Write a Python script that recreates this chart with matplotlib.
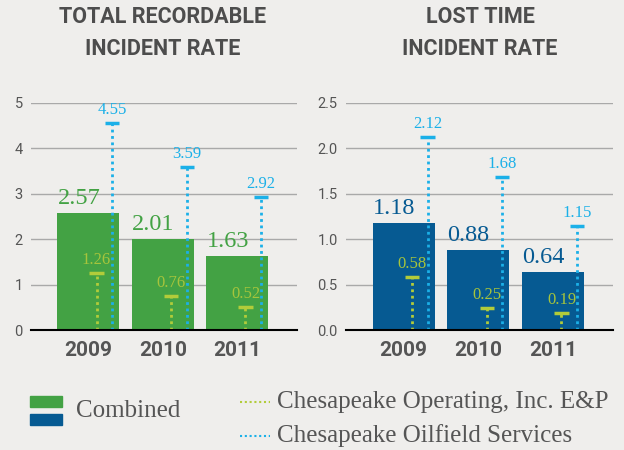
import matplotlib.pyplot as plt
import numpy as np

years = ["2009", "2010", "2011"]
trir_combined = [2.57, 2.01, 1.63]
trir_ep = [1.26, 0.76, 0.52]
trir_cos = [4.55, 3.59, 2.92]
ltir_combined = [1.18, 0.88, 0.64]
ltir_ep = [0.58, 0.25, 0.19]
ltir_cos = [2.12, 1.68, 1.15]

BG = "#efeeec"
GREEN = "#43a244"
BLUE = "#065a92"
EP = "#b2cc3a"
EP_TXT = "#a6c43c"
COS = "#1bb0e8"
GRAY = "#555555"
TITLE = "#4d4d4d"

SERIF = "Liberation Serif"
SANS = "Roboto"


def panel(ax, combined, ep, cos, color, ymax, yticks, ylabels):
    x = np.arange(len(years))
    ax.set_facecolor(BG)
    ax.set_xlim(-0.77, 2.80)
    ax.set_ylim(0, ymax)
    for t in yticks[1:]:
        ax.axhline(t, color="#a9a9a9", lw=1, zorder=0)
    ax.bar(x, combined, width=0.83, color=color, zorder=2)
    ax.vlines(x + 0.11, 0, ep, colors=EP, lw=2, linestyles=(0, (1, 1.3)), zorder=3)
    ax.vlines(x + 0.32, 0, cos, colors=COS, lw=2, linestyles=(0, (1, 1.3)), zorder=3)
    ax.hlines(ep, x + 0.11 - 0.095, x + 0.11 + 0.095, colors=EP, lw=2.5, zorder=3)
    ax.hlines(cos, x + 0.32 - 0.095, x + 0.32 + 0.095, colors=COS, lw=2.5, zorder=3)
    for i in range(len(years)):
        ax.annotate(f"{combined[i]:.2f}", (x[i] - 0.415, combined[i]),
                    xytext=(0, 4), textcoords="offset pixels", ha="left", va="bottom",
                    color=color, fontsize=17.5, family=SERIF, zorder=4)
        ax.annotate(f"{ep[i]:.2f}", (x[i] + 0.11, ep[i]),
                    xytext=(0, 5), textcoords="offset pixels", ha="center", va="bottom",
                    color=EP_TXT, fontsize=12, family=SERIF, zorder=4)
        ax.annotate(f"{cos[i]:.2f}", (x[i] + 0.32, cos[i]),
                    xytext=(0, 5), textcoords="offset pixels", ha="center", va="bottom",
                    color=COS, fontsize=12, family=SERIF, zorder=4)
    ax.set_xticks(x)
    ax.set_xticklabels(years, fontsize=15, fontweight="bold", color=GRAY, family=SANS)
    ax.set_yticks(yticks)
    ax.set_yticklabels(ylabels, fontsize=10.5, color=GRAY, family=SANS)
    ax.tick_params(length=0)
    ax.tick_params(axis="x", pad=8)
    ax.tick_params(axis="y", pad=6)
    for s in ["top", "left", "right"]:
        ax.spines[s].set_visible(False)
    ax.spines["bottom"].set_color("black")
    ax.spines["bottom"].set_linewidth(1.5)
    ax.spines["bottom"].set_zorder(5)


def main():
    fig = plt.figure(figsize=(6.24, 4.5), dpi=100, facecolor=BG)
    ax1 = fig.add_axes([0.0497, 0.266, 0.426, 0.506])
    ax2 = fig.add_axes([0.5545, 0.266, 0.428, 0.506])

    panel(ax1, trir_combined, trir_ep, trir_cos, GREEN, 5,
          [0, 1, 2, 3, 4, 5], ["0", "1", "2", "3", "4", "5"])
    panel(ax2, ltir_combined, ltir_ep, ltir_cos, BLUE, 2.5,
          [0, 0.5, 1.0, 1.5, 2.0, 2.5], ["0.0", "0.5", "1.0", "1.5", "2.0", "2.5"])

    tkw = dict(ha="center", va="center", fontsize=15.5, fontweight="bold", color=TITLE, family=SANS)
    fig.text(163 / 624, 1 - 17 / 450, "TOTAL RECORDABLE", **tkw)
    fig.text(163 / 624, 1 - 49 / 450, "INCIDENT RATE", **tkw)
    fig.text(480 / 624, 1 - 17 / 450, "LOST TIME", **tkw)
    fig.text(480 / 624, 1 - 49 / 450, "INCIDENT RATE", **tkw)

    # legend
    lax = fig.add_axes([0, 0, 1, 1], facecolor="none")
    lax.set_xlim(0, 624)
    lax.set_ylim(450, 0)
    lax.axis("off")
    lax.add_patch(plt.Rectangle((30, 396), 32, 11, color=GREEN))
    lax.add_patch(plt.Rectangle((30, 414), 32, 11, color=BLUE))
    lax.text(76, 411, "Combined", ha="left", va="center", fontsize=18, color=GRAY, family=SERIF)
    lax.plot([240, 270], [402, 402], color=EP, lw=1.5, ls=(0, (1, 1.3)))
    lax.plot([240, 270], [436, 436], color=COS, lw=1.5, ls=(0, (1, 1.3)))
    lax.text(277, 402, "Chesapeake Operating, Inc. E&P", ha="left", va="center",
             fontsize=18, color=GRAY, family=SERIF)
    lax.text(277, 436, "Chesapeake Oilfield Services", ha="left", va="center",
             fontsize=18, color=GRAY, family=SERIF)

    fig.savefig("out.png", dpi=100, facecolor=BG)


if __name__ == "__main__":
    main()
